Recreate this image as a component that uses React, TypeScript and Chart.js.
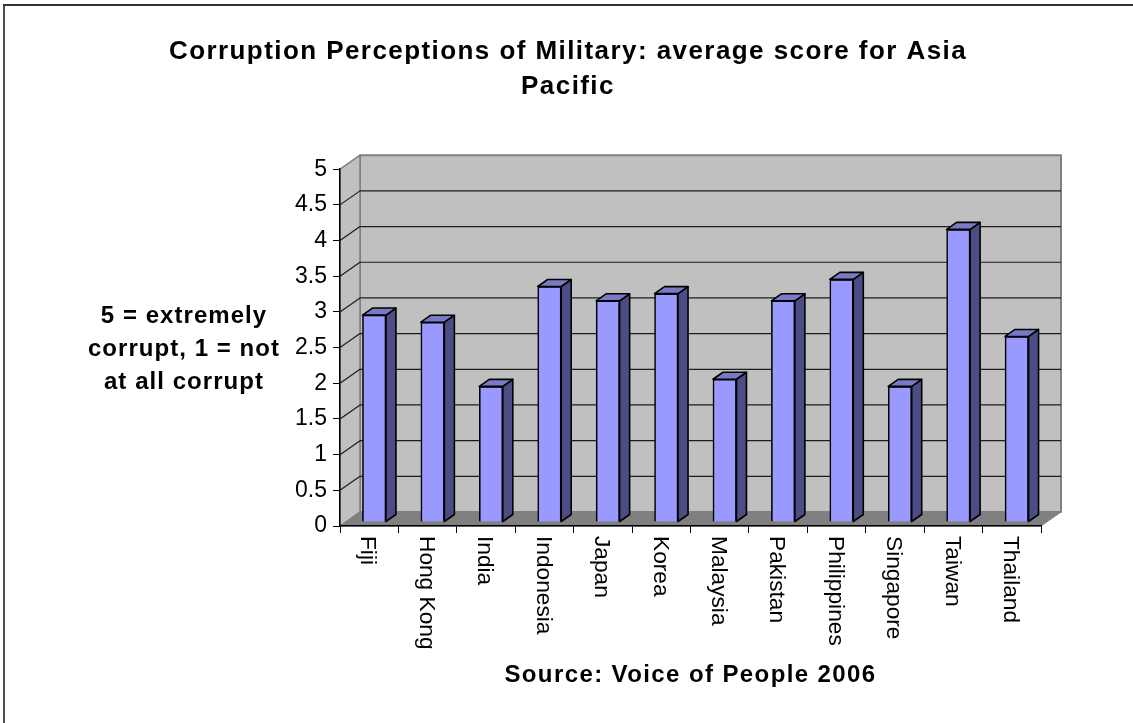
import React, { useEffect, useRef } from "react";
import { Chart, registerables } from "chart.js";

Chart.register(...registerables);

const categories = ["Fiji", "Hong Kong", "India", "Indonesia", "Japan", "Korea", "Malaysia", "Pakistan", "Philippines", "Singapore", "Taiwan", "Thailand"];
const scores = [2.9, 2.8, 1.9, 3.3, 3.1, 3.2, 2.0, 3.1, 3.4, 1.9, 4.1, 2.6];
const titleLines = ["Corruption Perceptions of Military: average score for Asia", "Pacific"];
const yTitleLines = ["5 = extremely", "corrupt, 1 = not", "at all corrupt"];
const xTitle = "Source: Voice of People 2006";

const FONT = '"Liberation Sans", Arial, sans-serif';
const DEPTH_X = 20;
const DEPTH_Y = -14;
const BAR_DX = 5;
const BAR_DY = -4;
const BAR_SIDE_X = 10;
const BAR_SIDE_Y = -7;

function poly(ctx: CanvasRenderingContext2D, pts: number[][], fill: string | null, stroke: string | null, lw = 1) {
  ctx.beginPath();
  pts.forEach((p, i) => (i ? ctx.lineTo(p[0], p[1]) : ctx.moveTo(p[0], p[1])));
  ctx.closePath();
  if (fill) { ctx.fillStyle = fill; ctx.fill(); }
  if (stroke) { ctx.strokeStyle = stroke; ctx.lineWidth = lw; ctx.lineJoin = "round"; ctx.stroke(); }
}

const wallsPlugin = {
  id: "walls",
  beforeDraw(chart: any) {
    const { ctx, chartArea: a, scales } = chart;
    ctx.save();
    // outer frame
    ctx.strokeStyle = "#111";
    ctx.lineWidth = 1.5;
    ctx.beginPath();
    ctx.moveTo(4, 723);
    ctx.lineTo(4, 5);
    ctx.stroke();
    ctx.strokeStyle = "#333";
    ctx.lineWidth = 2;
    ctx.beginPath();
    ctx.moveTo(3, 5);
    ctx.lineTo(1133, 5);
    ctx.stroke();

    const L = a.left, R = a.right, T = a.top, B = a.bottom;
    poly(ctx, [[L + DEPTH_X, T + DEPTH_Y], [R + DEPTH_X, T + DEPTH_Y], [R + DEPTH_X, B + DEPTH_Y], [L + DEPTH_X, B + DEPTH_Y]], "#C0C0C0", "#808080", 2);
    poly(ctx, [[L, T], [L + DEPTH_X, T + DEPTH_Y], [L + DEPTH_X, B + DEPTH_Y], [L, B]], "#C0C0C0", "#808080", 1.5);
    poly(ctx, [[L, B], [L + DEPTH_X, B + DEPTH_Y], [R + DEPTH_X, B + DEPTH_Y], [R, B]], "#808080", "#808080", 1);

    ctx.strokeStyle = "#1c1c1c";
    ctx.lineWidth = 1.2;
    for (const t of scales.y.ticks) {
      if (t.value === 0 || t.value === 5) continue;
      const y = scales.y.getPixelForValue(t.value);
      ctx.beginPath();
      ctx.moveTo(L, y);
      ctx.lineTo(L + DEPTH_X, y + DEPTH_Y);
      ctx.lineTo(R + DEPTH_X, y + DEPTH_Y);
      ctx.stroke();
    }
    ctx.restore();
  },
  beforeDatasetDraw(chart: any) {
    chart.ctx.save();
    chart.ctx.translate(BAR_DX, BAR_DY);
  },
  afterDatasetDraw(chart: any) {
    const { ctx } = chart;
    const meta = chart.getDatasetMeta(0);
    for (const bar of meta.data) {
      const hw = bar.width / 2;
      const l = bar.x - hw, r = bar.x + hw, t = bar.y, b = bar.base;
      poly(ctx, [[r, t], [r + BAR_SIDE_X, t + BAR_SIDE_Y], [r + BAR_SIDE_X, b + BAR_SIDE_Y], [r, b]], "#4D4D85", "#000", 1.6);
      poly(ctx, [[l, t], [l + BAR_SIDE_X, t + BAR_SIDE_Y], [r + BAR_SIDE_X, t + BAR_SIDE_Y], [r, t]], "#7A7AC4", "#000", 1.6);
    }
    ctx.restore();
  },
  afterLayout(chart: any) {
    const wrap = (obj: any, key: string, spacing: string) => {
      if (!obj || obj["__w" + key]) return;
      const orig = obj[key];
      obj[key] = function (...args: any[]) {
        const c = chart.ctx;
        c.save();
        c.letterSpacing = spacing;
        orig.apply(this, args);
        c.restore();
      };
      obj["__w" + key] = true;
    };
    wrap(chart.titleBlock, "draw", "1.43px");
    wrap(chart.scales.x, "drawTitle", "1.4px");
  },
  afterDraw(chart: any) {
    const { ctx } = chart;
    ctx.save();
    ctx.font = `bold 24px ${FONT}`;
    ctx.letterSpacing = "1.05px";
    ctx.fillStyle = "#000";
    ctx.textAlign = "center";
    ctx.textBaseline = "middle";
    yTitleLines.forEach((line, i) => ctx.fillText(line, 184, 316 + i * 33));
    ctx.restore();
  },
};

export default function App() {
  const ref = useRef<HTMLCanvasElement>(null);
  useEffect(() => {
    document.body.style.margin = "0";
    const chart = new Chart(ref.current!, {
      type: "bar",
      data: {
        labels: categories,
        datasets: [{
          data: scores,
          backgroundColor: "#9999FF",
          borderColor: "#000000",
          borderWidth: 1.6,
          barThickness: 23.5,
        }],
      },
      plugins: [wallsPlugin],
      options: {
        animation: false,
        responsive: false,
        devicePixelRatio: 1,
        layout: { padding: { left: 95, right: 92, top: 0, bottom: 0 } },
        plugins: {
          legend: { display: false },
          tooltip: { enabled: false },
          title: {
            display: true,
            text: titleLines,
            color: "#000",
            font: { family: FONT, size: 26, weight: "bold", lineHeight: 1.35 },
            padding: { top: 34.5, bottom: 64.5 },
          },
        },
        scales: {
          x: {
            type: "category",
            afterCalculateLabelRotation(s: any) {
              s.labelRotation = -90;
              s._getXAxisLabelAlignment = () => "left";
            },
            afterFit(s: any) { s.height = 723 - 526; },
            grid: { drawOnChartArea: false, drawTicks: true, tickLength: 7, color: "#000", offset: true },
            border: { display: true, color: "#000", width: 1.5 },
            ticks: {
              autoSkip: false,
              color: "#000",
              padding: 3,
              labelOffset: -1.5,
              font: { family: FONT, size: 22.7 },
            },
            title: {
              display: true,
              text: xTitle,
              color: "#000",
              font: { family: FONT, size: 24, weight: "bold" },
              padding: { top: 0, bottom: 33.6 },
            },
          },
          y: {
            min: 0,
            max: 5,
            afterFit(s: any) { s.width = 245; },
            grid: { drawOnChartArea: false, drawTicks: true, tickLength: 7, color: "#000" },
            border: { display: true, color: "#000", width: 1.5 },
            ticks: {
              stepSize: 0.5,
              color: "#000",
              padding: 6,
              font: { family: FONT, size: 23 },
              callback: (v: any) => String(v),
            },
          },
        },
      },
    } as any);
    return () => chart.destroy();
  }, []);
  return <canvas ref={ref} width={1133} height={723} style={{ display: "block" }} />;
}
